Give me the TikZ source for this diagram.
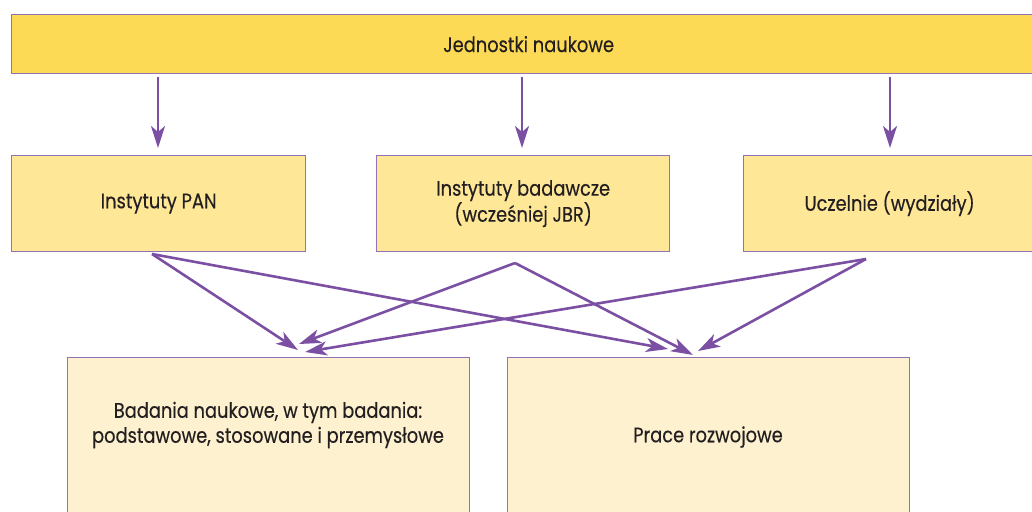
\documentclass[tikz,border=0pt]{standalone}
\usepackage{fontspec}
\setmainfont{Poppins}[FakeStretch=0.85,FakeBold=0.3]
\usetikzlibrary{arrows.meta}
\definecolor{topfill}{HTML}{FDDA55}
\definecolor{midfill}{HTML}{FEE797}
\definecolor{lowfill}{HTML}{FEF1D0}
\definecolor{edge}{HTML}{9272B5}
\definecolor{arrowc}{HTML}{7B50A3}
\definecolor{txt}{HTML}{231F20}
\tikzset{
  box/.style={draw=edge, line width=1.3pt, rectangle, anchor=north west, inner sep=0pt, text=txt, font=\fontsize{21}{24}\selectfont, align=center},
  lbl/.style={text=txt, font=\fontsize{21}{25}\selectfont, align=center, inner sep=0pt},
  conn/.style={draw=arrowc, line width=2.6pt, -{Stealth[length=22pt,width=14pt,inset=6pt]}}
}
\begin{document}
\begin{tikzpicture}[x=1pt,y=-1pt]
\useasboundingbox (0,0) rectangle (1032,511);
\clip (0,0) rectangle (1032,511);
\node[box, fill=topfill, minimum width=1034pt, minimum height=59pt] (top) at (11,14) {Jednostki naukowe};
\node[box, fill=midfill, minimum width=294pt, minimum height=96pt] (pan) at (11,155) {Instytuty PAN};
\node[box, fill=midfill, minimum width=293pt, minimum height=96pt] (ib) at (376,155) {Instytuty badawcze\\(wcześniej JBR)};
\node[box, fill=midfill, minimum width=292pt, minimum height=96pt] (ucz) at (743,155) {Uczelnie (wydziały)};
\node[box, fill=lowfill, minimum width=402pt, minimum height=200pt] (bad) at (67,357) {};
\node[box, fill=lowfill, minimum width=402pt, minimum height=200pt] (prace) at (507,357) {};
\node[lbl] (badtxt) at (268,425) {Badania naukowe, w tym badania:\\podstawowe, stosowane i przemysłowe};
\node[lbl] (pracetxt) at (708,437) {Prace rozwojowe};
% vertical arrow coordinates
\coordinate (v1s) at (158,77); \coordinate (v1e) at (158,148);
\coordinate (v2s) at (522,77); \coordinate (v2e) at (522,148);
\coordinate (v3s) at (890,77); \coordinate (v3e) at (890,148);
\draw[conn] (v1s) -- (v1e);
\draw[conn] (v2s) -- (v2e);
\draw[conn] (v3s) -- (v3e);
% cross arrows
\coordinate (ps) at (152,254);
\coordinate (is) at (515,263);
\coordinate (us) at (866,259);
\coordinate (b1) at (298,350);
\coordinate (b2) at (299,344);
\coordinate (b3) at (305,352);
\coordinate (r1) at (668,349);
\coordinate (r2) at (693,355);
\coordinate (r3) at (698,351);
\draw[conn] (ps) -- (b1);
\draw[conn] (ps) -- (r1);
\draw[conn] (is) -- (b2);
\draw[conn] (is) -- (r2);
\draw[conn] (us) -- (b3);
\draw[conn] (us) -- (r3);
\end{tikzpicture}
\end{document}
